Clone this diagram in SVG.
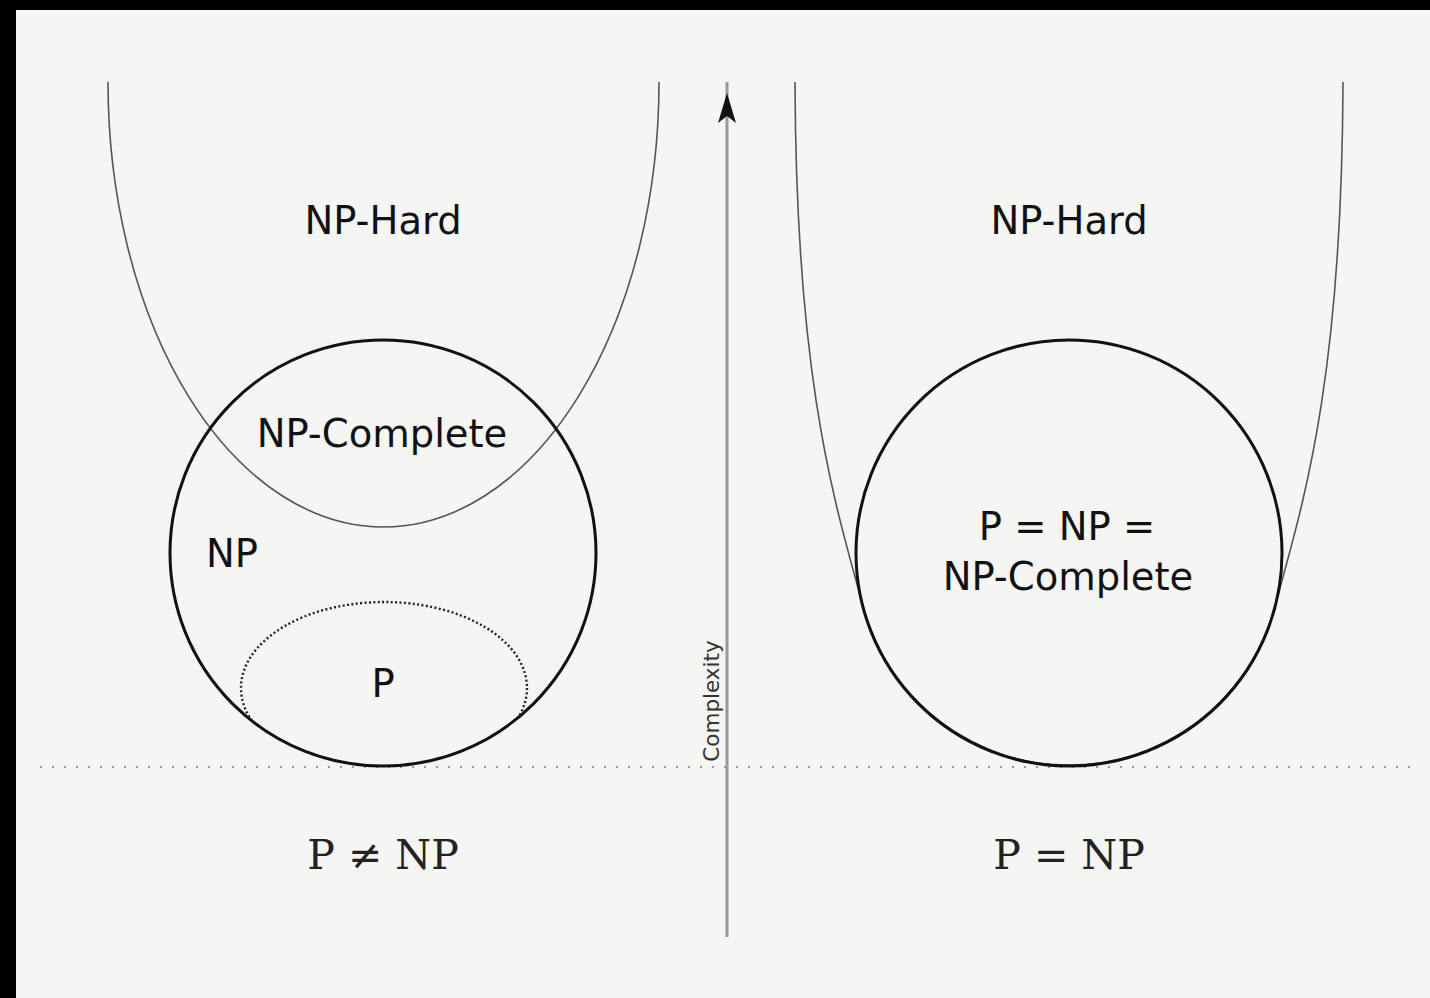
<svg xmlns="http://www.w3.org/2000/svg" width="1430" height="998" viewBox="0 0 1430 998">
  <style>
    .set { fill: none; stroke: #111; stroke-width: 3; }
    .hard { fill: none; stroke: #555; stroke-width: 1.6; }
    .lbl { font-family: "DejaVu Sans", "Liberation Sans", sans-serif; font-size: 38.5px; fill: #111; text-anchor: middle; }
    .eq { font-family: "DejaVu Serif", "Liberation Serif", serif; font-size: 41px; fill: #222; text-anchor: middle; }
  </style>
  <defs>
    <clipPath id="npclip"><circle cx="383" cy="553" r="213"/></clipPath>
  </defs>
  <rect x="0" y="0" width="1430" height="998" fill="#000"/>
  <rect x="16" y="10" width="1414" height="988" fill="#f5f5f4"/>

  <g id="connectors">
    <line x1="40" y1="767" x2="1415" y2="767" stroke="#999" stroke-width="2" stroke-dasharray="2 10"/>
    <line x1="727" y1="937" x2="727" y2="82" stroke="#999" stroke-width="3"/>
    <path d="M727,93 L736,123 L727,116 L718,123 Z" fill="#111"/>
    <text transform="translate(719,701) rotate(-90)" font-family="DejaVu Sans, sans-serif" font-size="21.5" fill="#333" text-anchor="middle">Complexity</text>
  </g>

  <g id="left-nphard">
    <path class="hard" d="M108,82 A275.5,445 0 0 0 659,82"/>
    <text class="lbl" x="383" y="234">NP-Hard</text>
  </g>
  <g id="left-np">
    <circle class="set" cx="383" cy="553" r="213"/>
    <text class="lbl" x="232" y="567">NP</text>
  </g>
  <g id="left-npc">
    <text class="lbl" x="382" y="447">NP-Complete</text>
  </g>
  <g id="left-p">
    <ellipse cx="384" cy="688" rx="143" ry="86" fill="none" stroke="#222" stroke-width="2.4" stroke-dasharray="2 2.4" clip-path="url(#npclip)"/>
    <text class="lbl" x="383" y="697">P</text>
  </g>
  <g id="left-caption">
    <text class="eq" x="383" y="869">P ≠ NP</text>
  </g>

  <g id="right-nphard">
    <path class="hard" d="M795,82 C796,392 838,512 864,610 A213,213 0 0 0 1274,610 C1300,512 1342,392 1343,82"/>
    <text class="lbl" x="1069" y="234">NP-Hard</text>
  </g>
  <g id="right-np">
    <circle class="set" cx="1069" cy="553" r="213"/>
    <text class="lbl" x="1067" y="540">P = NP =</text>
    <text class="lbl" x="1068" y="590">NP-Complete</text>
  </g>
  <g id="right-caption">
    <text class="eq" x="1069" y="869">P = NP</text>
  </g>
</svg>
